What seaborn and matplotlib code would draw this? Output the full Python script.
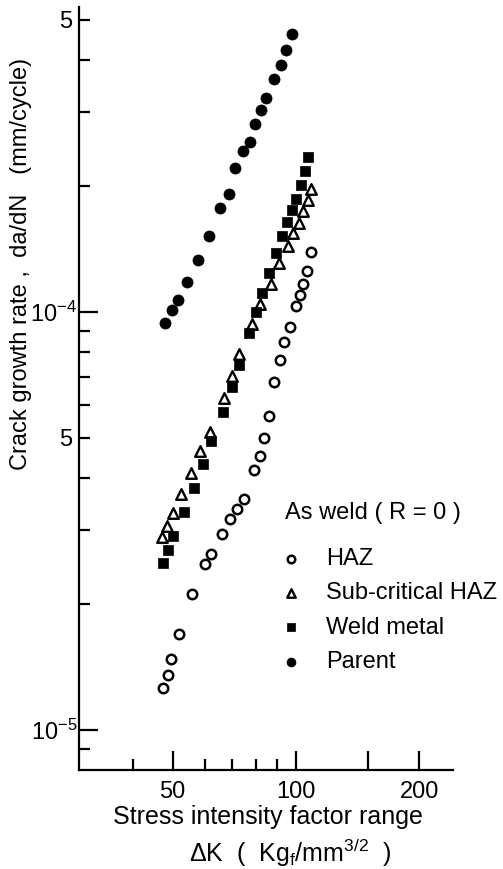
import matplotlib
matplotlib.use("Agg")
import matplotlib.pyplot as plt
import seaborn as sns
from matplotlib.ticker import FixedLocator, FuncFormatter, NullFormatter

# Stress intensity factor range dK (Kgf/mm^3/2) and crack growth rate da/dN (mm/cycle)
haz_dk = [47.3, 48.6, 49.5, 51.7, 55.8, 60.0, 62.0, 65.9, 69.1, 71.8, 74.7, 78.9,
          81.6, 83.7, 85.9, 88.5, 91.6, 93.6, 96.9, 100.2, 102.4, 104.2, 106.4, 108.8]
haz_rate = [1.26e-5, 1.35e-5, 1.48e-5, 1.70e-5, 2.12e-5, 2.50e-5, 2.64e-5, 2.94e-5,
            3.19e-5, 3.38e-5, 3.56e-5, 4.18e-5, 4.52e-5, 5.00e-5, 5.64e-5, 6.78e-5,
            7.66e-5, 8.45e-5, 9.21e-5, 1.032e-4, 1.098e-4, 1.168e-4, 1.254e-4, 1.387e-4]

sub_dk = [47.2, 48.5, 50.0, 52.5, 55.3, 58.4, 61.6, 66.6, 69.9, 72.7, 78.2, 81.6,
          86.7, 91.0, 95.4, 98.5, 101.6, 104.2, 106.8, 109.0]
sub_rate = [2.89e-5, 3.08e-5, 3.31e-5, 3.66e-5, 4.11e-5, 4.66e-5, 5.16e-5, 6.21e-5,
            7.03e-5, 7.92e-5, 9.36e-5, 1.043e-4, 1.168e-4, 1.308e-4, 1.434e-4,
            1.541e-4, 1.634e-4, 1.745e-4, 1.853e-4, 1.963e-4]

weld_dk = [47.3, 48.8, 50.1, 53.4, 56.4, 59.4, 61.9, 66.5, 69.7, 72.6, 76.6, 79.9,
           82.5, 85.8, 89.4, 92.3, 95.1, 97.7, 100.0, 102.6, 105.3, 107.3]
weld_rate = [2.51e-5, 2.69e-5, 2.91e-5, 3.32e-5, 3.79e-5, 4.32e-5, 4.91e-5, 5.76e-5,
             6.61e-5, 7.48e-5, 8.91e-5, 1.0e-4, 1.107e-4, 1.238e-4, 1.383e-4,
             1.518e-4, 1.637e-4, 1.749e-4, 1.866e-4, 2.013e-4, 2.177e-4, 2.342e-4]

parent_dk = [47.8, 49.7, 51.5, 54.2, 57.6, 61.2, 65.1, 68.5, 71.0, 74.4, 77.4, 79.4,
             82.3, 84.6, 88.5, 91.8, 94.4, 97.6]
parent_rate = [9.4e-5, 1.013e-4, 1.067e-4, 1.178e-4, 1.331e-4, 1.520e-4, 1.768e-4,
               1.912e-4, 2.203e-4, 2.424e-4, 2.547e-4, 2.818e-4, 3.032e-4, 3.245e-4,
               3.597e-4, 3.886e-4, 4.227e-4, 4.609e-4]

series_labels = ["HAZ", "Sub-critical HAZ", "Weld metal", "Parent"]
legend_title = "As weld ( R = 0 )"

x_major = [50, 100, 150, 200]
x_major_labels = ["50", "100", "", "200"]
x_minor = [40, 60, 70, 80, 90]
y_major = [1e-5, 1e-4]
y_minor = [9e-6, 2e-5, 3e-5, 4e-5, 5e-5, 6e-5, 7e-5, 8e-5, 9e-5, 2e-4, 3e-4, 4e-4, 5e-4]

sns.set_theme(style="ticks")
plt.rcParams["font.family"] = ["Liberation Sans", "DejaVu Sans"]
plt.rcParams["mathtext.fontset"] = "custom"
plt.rcParams["mathtext.rm"] = "Liberation Sans"
plt.rcParams["mathtext.it"] = "Liberation Sans"
plt.rcParams["text.color"] = "black"

FS = 17

fig = plt.figure(figsize=(5.03, 8.69), dpi=100)
ax = fig.add_axes([0.1565, 0.1139, 0.7445, 0.878])
ax.set_xscale("log")
ax.set_yscale("log")

sns.scatterplot(x=haz_dk, y=haz_rate, ax=ax, marker="o", s=46, facecolor="white",
                edgecolor="black", linewidth=1.8, label=series_labels[0], zorder=3)
sns.scatterplot(x=sub_dk, y=sub_rate, ax=ax, marker="^", s=58, facecolor="white",
                edgecolor="black", linewidth=1.7, label=series_labels[1], zorder=3)
sns.scatterplot(x=weld_dk, y=weld_rate, ax=ax, marker="s", s=50, facecolor="black",
                edgecolor="black", linewidth=0.5, label=series_labels[2], zorder=4)
sns.scatterplot(x=parent_dk, y=parent_rate, ax=ax, marker="o", s=64, facecolor="black",
                edgecolor="black", linewidth=0.5, label=series_labels[3], zorder=4)

ax.set_xlim(29.5, 242)
ax.set_ylim(8.02e-6, 5.36e-4)

for side in ("top", "right"):
    ax.spines[side].set_visible(False)
for side in ("left", "bottom"):
    ax.spines[side].set_linewidth(1.6)
    ax.spines[side].set_color("black")

ax.xaxis.set_major_locator(FixedLocator(x_major))
ax.xaxis.set_major_formatter(FuncFormatter(
    lambda v, p: x_major_labels[x_major.index(round(v))] if round(v) in x_major else ""))
ax.xaxis.set_minor_locator(FixedLocator(x_minor))
ax.xaxis.set_minor_formatter(NullFormatter())

ax.yaxis.set_major_locator(FixedLocator(y_major))
ax.yaxis.set_major_formatter(FuncFormatter(
    lambda v, p: r"$\mathregular{10^{-5}}$" if v < 5e-5 else r"$\mathregular{10^{-4}}$"))
ax.yaxis.set_minor_locator(FixedLocator(y_minor))
ax.yaxis.set_minor_formatter(FuncFormatter(
    lambda v, p: "5" if abs(v / 5e-5 - 1) < 1e-3 or abs(v / 5e-4 - 1) < 1e-3 else ""))

ax.tick_params(which="major", direction="in", length=14, width=1.6, labelsize=FS,
               color="black", labelcolor="black")
ax.tick_params(which="minor", direction="in", length=8, width=1.6, labelsize=FS,
               color="black", labelcolor="black")
ax.tick_params(axis="x", which="both", pad=8)
ax.tick_params(axis="y", which="major", pad=1)
ax.tick_params(axis="y", which="minor", pad=5)

ax.set_ylabel("Crack growth rate ,  da/dN   (mm/cycle)", fontsize=FS, color="black")
ax.yaxis.label.set_va("center")
ax.yaxis.set_label_coords(-0.153, 0.663)
ax.set_xlabel("")

fig.text(0.532, 1 - 817 / 869, "Stress intensity factor range", fontsize=18,
         ha="center", va="center", color="black")
fig.text(0.578, 1 - 853 / 869,
         r"$\mathregular{\Delta}$K  (  Kg$_\mathregular{f}$/mm$^\mathregular{3/2}$  )",
         fontsize=18, ha="center", va="center", color="black")

fig.text(285 / 503, 1 - 513 / 869, legend_title, fontsize=FS, ha="left", va="center",
         color="black")
leg = ax.legend(loc="upper left", bbox_to_anchor=(281.5 / 503, 1 - 548 / 869),
                bbox_transform=fig.transFigure, frameon=False, fontsize=FS,
                handlelength=0.8, handletextpad=1.08, labelspacing=0.52,
                markerscale=0.8, borderaxespad=0, borderpad=0)

fig.savefig("out.png", dpi=100, facecolor="white")
